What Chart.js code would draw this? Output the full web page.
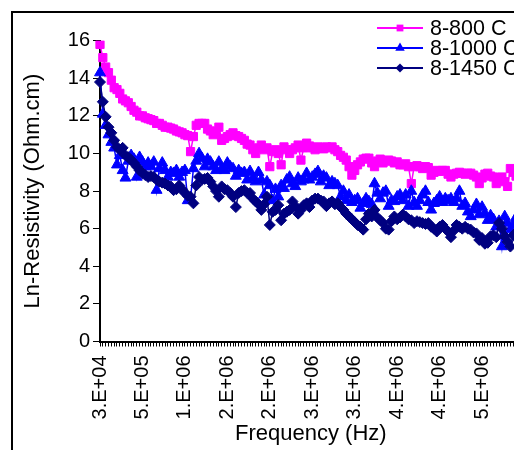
<!DOCTYPE html>
<html>
<head>
<meta charset="utf-8">
<script src="https://cdn.jsdelivr.net/npm/chart.js@4/dist/chart.umd.min.js"></script>
<style>
  html, body { margin: 0; padding: 0; overflow: hidden; background: #fff; }
  #wrap { position: absolute; left: 0; top: 0; width: 560px; height: 480px; }
</style>
</head>
<body>
<div id="wrap"><canvas id="c" width="560" height="480"></canvas></div>
<script>
// Frequency axis: one category per measured frequency, a label on every 15th one
const tickLabels = ['3.E+04', '5.E+05', '1.E+06', '2.E+06', '2.E+06', '3.E+06',
                    '3.E+06', '4.E+06', '4.E+06', '5.E+06'];
const labelStep = 15;
const pointCount = 150;

// Ln-resistivity (Ohm.cm) for each sintering temperature
const s800 = [
  15.8, 15.1, 14.6, 14.3, 13.9, 13.5, 13.4, 13.2, 12.9, 12.8,
  12.7, 12.5, 12.3, 12.2, 12.0, 12.0, 11.9, 11.85, 11.8, 11.75,
  11.6, 11.6, 11.5, 11.4, 11.4, 11.35, 11.3, 11.2, 11.15, 11.1,
  11.0, 10.95, 10.1, 10.9, 11.5, 11.6, 11.6, 11.6, 11.3, 11.2,
  11.0, 11.1, 11.4, 10.7, 10.8, 10.9, 11.0, 11.1, 10.95, 10.9,
  10.8, 10.7, 10.5, 10.45, 10.2, 10.0, 10.3, 10.45, 10.2, 10.3,
  9.3, 10.1, 10.2, 10.0, 9.4, 10.35, 10.2, 10.0, 10.2, 10.3,
  10.45, 9.65, 10.3, 10.55, 10.4, 10.3, 10.2, 10.35, 10.3, 10.25,
  10.35, 10.3, 10.35, 10.2, 10.1, 9.9, 9.8, 9.65, 9.3, 8.85,
  9.1, 9.4, 9.55, 9.7, 9.75, 9.75, 9.5, 9.3, 9.6, 9.7,
  9.5, 9.6, 9.65, 9.6, 9.5, 9.55, 9.4, 9.4, 9.45, 9.3,
  8.4, 9.3, 9.35, 9.3, 9.2, 9.3, 9.25, 8.85, 9.0, 9.1,
  9.05, 9.1, 9.1, 8.9, 8.75, 8.9, 8.95, 9.0, 8.95, 8.9,
  8.95, 8.95, 8.85, 8.75, 8.4, 8.7, 8.9, 8.95, 8.8, 8.75,
  8.4, 8.6, 8.75, 8.5, 8.25, 9.2, 9.0, 8.8, 8.7, 8.9
];
const s1000 = [
  14.3, 12.1, 11.5, 11.0, 10.6, 10.3, 9.4, 9.9, 9.1, 8.7,
  9.6, 9.9, 9.7, 8.75, 9.8, 9.55, 9.3, 9.5, 9.3, 9.55,
  8.05, 9.2, 9.5, 9.1, 8.75, 9.0, 8.95, 9.1, 8.75, 9.0,
  9.1, 7.5, 7.6, 9.2, 9.6, 10.0, 9.75, 9.3, 9.7, 9.55,
  9.3, 9.1, 9.55, 9.2, 9.1, 9.5, 9.3, 9.2, 8.8, 9.1,
  8.95, 9.0, 8.6, 9.05, 8.7, 8.5, 9.0, 8.6, 7.8, 8.5,
  8.3, 7.5, 8.1, 7.7, 8.3, 8.15, 8.6, 8.75, 8.4, 8.25,
  8.7, 8.5, 8.6, 8.95, 8.6, 8.75, 8.9, 9.05, 8.5, 8.8,
  8.7, 8.3, 8.5, 8.4, 8.3, 7.7, 8.0, 7.5, 7.8, 7.4,
  7.5, 7.6, 7.1, 7.35, 7.6, 7.45, 7.3, 8.4, 7.9, 7.6,
  7.9, 8.0, 7.2, 7.5, 7.45, 7.7, 7.8, 7.5, 7.8, 7.2,
  8.0, 7.4, 7.2, 7.5, 7.8, 8.0, 7.4, 7.0, 7.35, 7.5,
  7.7, 7.4, 7.6, 7.5, 7.6, 7.4, 7.6, 8.0, 7.2, 7.35,
  6.9, 6.65, 7.0, 7.3, 6.75, 7.15, 6.8, 6.45, 6.7, 6.5,
  6.1, 6.4, 5.05, 6.65, 6.3, 5.95, 6.2, 6.6, 6.3, 6.5
];
const s1450 = [
  13.8, 12.75, 11.95, 11.4, 11.1, 10.7, 10.35, 10.2, 10.3, 9.9,
  9.8, 9.65, 9.5, 9.3, 9.1, 8.95, 8.85, 8.75, 8.8, 8.75,
  8.6, 8.5, 8.45, 8.4, 8.3, 8.25, 8.05, 8.1, 8.3, 8.1,
  7.9, 7.75, 7.7, 7.35, 8.3, 8.75, 8.6, 8.65, 8.7, 8.5,
  8.25, 8.0, 7.7, 8.25, 8.1, 8.05, 7.9, 7.7, 7.15, 7.9,
  8.0, 8.05, 7.9, 7.9, 7.6, 7.45, 7.3, 7.0, 7.3, 7.7,
  6.2, 6.9, 7.0, 7.25, 6.45, 6.8, 6.9, 7.0, 7.45, 7.2,
  6.8, 7.0, 7.25, 7.35, 7.15, 7.5, 7.6, 7.6, 7.5, 7.45,
  7.2, 7.35, 7.45, 7.3, 7.35, 7.15, 7.0, 6.8, 6.65, 6.5,
  6.35, 6.2, 6.1, 5.95, 6.5, 6.8, 6.65, 7.0, 6.6, 6.45,
  6.3, 6.0, 5.95, 6.4, 6.65, 6.5, 6.6, 6.75, 6.65, 6.5,
  6.45, 6.3, 6.4, 6.35, 6.3, 6.25, 6.3, 6.1, 6.0, 5.85,
  6.1, 6.2, 6.0, 5.85, 5.55, 5.9, 6.2, 6.1, 6.0, 6.1,
  6.0, 5.95, 5.8, 5.75, 5.4, 5.5, 5.2, 5.25, 5.6, 5.65,
  5.55, 6.3, 6.0, 5.6, 5.3, 5.05, 5.65, 5.8, 5.5, 5.7
];

const seriesNames = ['8-800 C', '8-1000 C', '8-1450 C'];
const seriesColors = ['#FF00FF', '#0000FF', '#000080'];

// Category labels: blank except on every labelStep-th frequency
const categories = [];
for (let i = 0; i < pointCount; i++) {
  categories.push(i % labelStep === 0 ? (tickLabels[i / labelStep] || '') : '');
}

const FONT = "'Liberation Sans', Arial, sans-serif";

function markerPath(ctx, style, x, y, r) {
  ctx.beginPath();
  if (style === 'rect') {
    const h = r * Math.SQRT1_2;
    ctx.rect(x - h, y - h, 2 * h, 2 * h);
  } else if (style === 'triangle') {
    ctx.moveTo(x, y - r);
    ctx.lineTo(x + r * Math.sin(2 * Math.PI / 3), y - r * Math.cos(2 * Math.PI / 3));
    ctx.lineTo(x + r * Math.sin(4 * Math.PI / 3), y - r * Math.cos(4 * Math.PI / 3));
  } else {
    ctx.moveTo(x - r, y);
    ctx.lineTo(x, y - r);
    ctx.lineTo(x + r, y);
    ctx.lineTo(x, y + r);
  }
  ctx.closePath();
}

// Outer chart frame and the legend in the upper right corner
const decorations = {
  id: 'decorations',
  afterDraw(chart) {
    const ctx = chart.ctx;
    ctx.save();
    ctx.strokeStyle = '#000';
    ctx.lineWidth = 2;
    ctx.strokeRect(12, 12, 900, 900);

    const legendX = 377, legendW = 46, rowH = 20, firstY = 28;
    chart.data.datasets.forEach((ds, i) => {
      const y = firstY + i * rowH;
      ctx.strokeStyle = ds.borderColor;
      ctx.lineWidth = 2;
      ctx.beginPath();
      ctx.moveTo(legendX, y);
      ctx.lineTo(legendX + legendW, y);
      ctx.stroke();
      ctx.fillStyle = ds.borderColor;
      markerPath(ctx, ds.pointStyle, legendX + legendW / 2, y, ds.legendRadius);
      ctx.fill();
      ctx.fillStyle = '#000';
      ctx.font = '21.5px ' + FONT;
      ctx.textAlign = 'left';
      ctx.textBaseline = 'middle';
      ctx.fillText(ds.label, 430, y + 1);
    });
    ctx.restore();
  }
};

function makeSet(i, data, style, radius, legendRadius, order) {
  return {
    label: seriesNames[i],
    data: data,
    borderColor: seriesColors[i],
    backgroundColor: seriesColors[i],
    pointBackgroundColor: seriesColors[i],
    pointBorderColor: seriesColors[i],
    pointBorderWidth: 1,
    pointStyle: style,
    pointRadius: radius,
    legendRadius: legendRadius,
    borderWidth: 1.5,
    tension: 0,
    order: order
  };
}

new Chart(document.getElementById('c'), {
  type: 'line',
  data: {
    labels: categories,
    datasets: [
      makeSet(0, s800, 'rect', 5.8, 4.8, 3),
      makeSet(1, s1000, 'triangle', 6.3, 5.5, 2),
      makeSet(2, s1450, 'rectRot', 5.5, 4.5, 1)
    ]
  },
  options: {
    responsive: false,
    animation: false,
    devicePixelRatio: 1,
    events: [],
    layout: { padding: { left: 0, top: 40.7, right: 38.3, bottom: 28.5 } },
    plugins: { legend: { display: false }, tooltip: { enabled: false } },
    scales: {
      x: {
        type: 'category',
        offset: false,
        afterFit: (s) => { s.height = 110; },
        grid: { display: true, drawOnChartArea: false, drawTicks: true, tickLength: 5, color: '#000', lineWidth: 1 },
        border: { display: true, color: '#000', width: 2 },
        ticks: {
          autoSkip: false, minRotation: 90, maxRotation: 90, padding: 9,
          color: '#000', font: { family: FONT, size: 20 }
        },
        title: {
          display: true, text: 'Frequency (Hz)', color: '#000',
          font: { family: FONT, size: 22, lineHeight: 1 },
          padding: { top: 0, bottom: 6.5 }
        }
      },
      y: {
        min: 0, max: 16,
        afterFit: (s) => { s.width = 100; },
        grid: { display: true, drawOnChartArea: false, drawTicks: true, tickLength: 7, color: '#000', lineWidth: 1 },
        border: { display: true, color: '#000', width: 2 },
        ticks: {
          stepSize: 2, padding: 3, color: '#000',
          font: { family: FONT, size: 20 }
        },
        title: {
          display: true, text: 'Ln-Resistivity (Ohm.cm)', color: '#000',
          font: { family: FONT, size: 22, lineHeight: 1 },
          padding: { top: 22, bottom: 0 }
        }
      }
    }
  },
  plugins: [decorations]
});
</script>
</body>
</html>
